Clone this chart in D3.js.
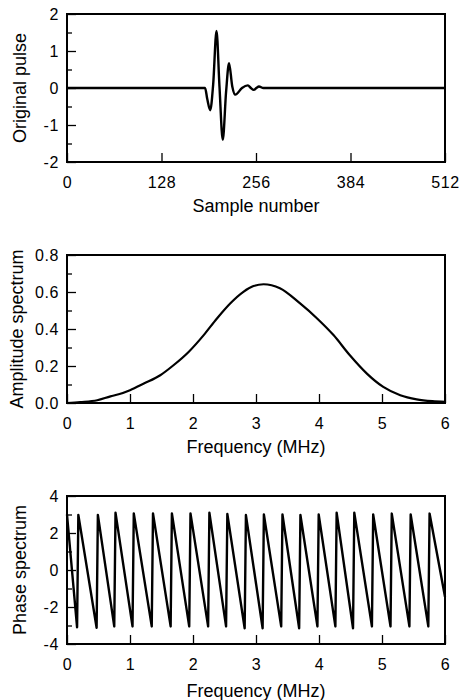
<!DOCTYPE html>
<html lang="en">
<head>
<meta charset="UTF-8">
<title>Pulse and spectra</title>
<script src="https://cdn.jsdelivr.net/npm/d3@7"></script>
<style>
  body { margin: 0; background: #fff; }
  text { font-family: Arial, "Liberation Sans", sans-serif; fill: #000; }
  .tick text { font-size: 16px; letter-spacing: 0.6px; }
  .title { font-size: 18px; }
</style>
</head>
<body>
<script>
  // original pulse (sample number vs amplitude)
  const pulseSample = [0, 180, 187, 190, 194, 198, 202.5, 206.5, 211, 215.5, 219.5, 223.8, 228, 237, 245, 249, 253, 256.5, 260, 266, 512]
  const pulseValue  = [0, 0, 0, -0.3, -0.6, 0.1, 1.54, 0.05, -1.4, -0.1, 0.67, 0.05, -0.18, 0, 0.07, 0, -0.05, 0, 0.04, 0, 0]

  // amplitude spectrum
  const ampFreq  = [0, 0.21, 0.48, 0.69, 0.82, 1.0, 1.22, 1.48, 1.69, 1.93, 2.17, 2.38, 2.59, 2.8, 2.96, 3.12, 3.38, 3.7, 3.97, 4.23, 4.49, 4.76, 5.02, 5.29, 5.55, 5.8, 6.0]
  const ampValue = [0, 0.005, 0.015, 0.036, 0.047, 0.069, 0.105, 0.15, 0.204, 0.276, 0.367, 0.457, 0.538, 0.601, 0.632, 0.642, 0.62, 0.538, 0.457, 0.367, 0.258, 0.159, 0.087, 0.042, 0.02, 0.01, 0.006]

  // wrapped phase spectrum, corners of the saw tooth
  const phaseFreq  = [0, 0.16, 0.18, 0.47, 0.49, 0.75, 0.77, 1.04, 1.06, 1.345, 1.365, 1.645, 1.665, 1.94, 1.96, 2.24, 2.26, 2.525, 2.545, 2.82, 2.84, 3.105, 3.125, 3.4, 3.42, 3.685, 3.705, 3.975, 3.995, 4.26, 4.28, 4.54, 4.56, 4.84, 4.86, 5.135, 5.155, 5.435, 5.455, 5.735, 5.755, 6.0]
  const phaseValue = [3.0, -3.1, 2.98, -3.12, 2.98, -3.05, 3.1, -3.05, 3.06, -3.05, 3.06, -3.05, 3.06, -3.05, 3.06, -3.05, 3.1, -3.05, 3.03, -3.15, 2.97, -3.15, 3.0, -3.05, 3.0, -3.15, 2.97, -3.05, 3.0, -3.05, 3.1, -3.15, 3.1, -3.05, 3.0, -3.05, 3.05, -3.05, 3.0, -3.05, 3.05, -1.45]

  const sampleTicks = [0, 128, 256, 384, 512]
  const freqTicks = [0, 1, 2, 3, 4, 5, 6]

  const W = 459, H = 700
  const left = 67, pw = 378, ph = 148

  const svg = d3.select("body").append("svg")
    .attr("width", W)
    .attr("height", H)

  function panel(p) {
    const g = svg.append("g").attr("transform", `translate(${left},${p.top})`)
    const x = d3.scaleLinear().domain(p.xDomain).range([0, pw])
    const y = d3.scaleLinear().domain(p.yDomain).range([ph, 0])

    // x axis, ticks point inward
    g.append("g")
      .attr("transform", `translate(0,${ph})`)
      .call(d3.axisBottom(x).tickValues(p.xTicks).tickSize(-9).tickPadding(15).tickFormat(d => String(d)))
      .call(a => a.select(".domain").remove())

    g.append("g")
      .call(d3.axisLeft(y).tickValues(p.yTicks).tickSize(-9).tickPadding(8).tickFormat(p.yFormat))
      .call(a => a.select(".domain").remove())

    g.append("g")
      .call(d3.axisLeft(y).tickValues(p.yMinor).tickSize(-5).tickFormat(""))
      .call(a => a.select(".domain").remove())

    g.selectAll(".tick line").attr("stroke-width", 1.3)
    g.selectAll(".tick text").attr("font-size", null).attr("font-family", null)

    const line = d3.line()
      .x((d, i) => x(p.xs[i]))
      .y(d => y(d))
      .curve(p.curve)

    g.append("path")
      .datum(p.ys)
      .attr("fill", "none")
      .attr("stroke", "#000")
      .attr("stroke-width", p.lw)
      .attr("stroke-linejoin", "round")
      .attr("d", line)

    g.append("rect")
      .attr("width", pw)
      .attr("height", ph)
      .attr("fill", "none")
      .attr("stroke", "#000")
      .attr("stroke-width", 2)

    g.append("text")
      .attr("class", "title")
      .attr("x", pw / 2)
      .attr("y", ph + p.xTitleY)
      .attr("text-anchor", "middle")
      .text(p.xTitle)

    g.append("text")
      .attr("class", "title")
      .attr("transform", `translate(${p.yTitleX},${ph / 2}) rotate(-90)`)
      .attr("text-anchor", "middle")
      .text(p.yTitle)
  }

  panel({
    top: 14, xDomain: [0, 512], yDomain: [-2, 2],
    xTicks: sampleTicks, yTicks: [-2, -1, 0, 1, 2], yMinor: [-1.5, -0.5, 0.5, 1.5],
    yFormat: d => String(d),
    xs: pulseSample, ys: pulseValue, curve: d3.curveMonotoneX, lw: 2.4,
    xTitle: "Sample number", xTitleY: 50, yTitle: "Original pulse", yTitleX: 26 - left
  })

  panel({
    top: 255, xDomain: [0, 6], yDomain: [0, 0.8],
    xTicks: freqTicks, yTicks: [0, 0.2, 0.4, 0.6, 0.8], yMinor: [0.1, 0.3, 0.5, 0.7],
    yFormat: d3.format(".1f"),
    xs: ampFreq, ys: ampValue, curve: d3.curveMonotoneX, lw: 2.2,
    xTitle: "Frequency (MHz)", xTitleY: 50, yTitle: "Amplitude spectrum", yTitleX: 23 - left
  })

  panel({
    top: 496, xDomain: [0, 6], yDomain: [-4, 4],
    xTicks: freqTicks, yTicks: [-4, -2, 0, 2, 4], yMinor: [-3, -1, 1, 3],
    yFormat: d => String(d),
    xs: phaseFreq, ys: phaseValue, curve: d3.curveLinear, lw: 2.4,
    xTitle: "Frequency (MHz)", xTitleY: 53, yTitle: "Phase spectrum", yTitleX: 26 - left
  })
</script>
</body>
</html>
